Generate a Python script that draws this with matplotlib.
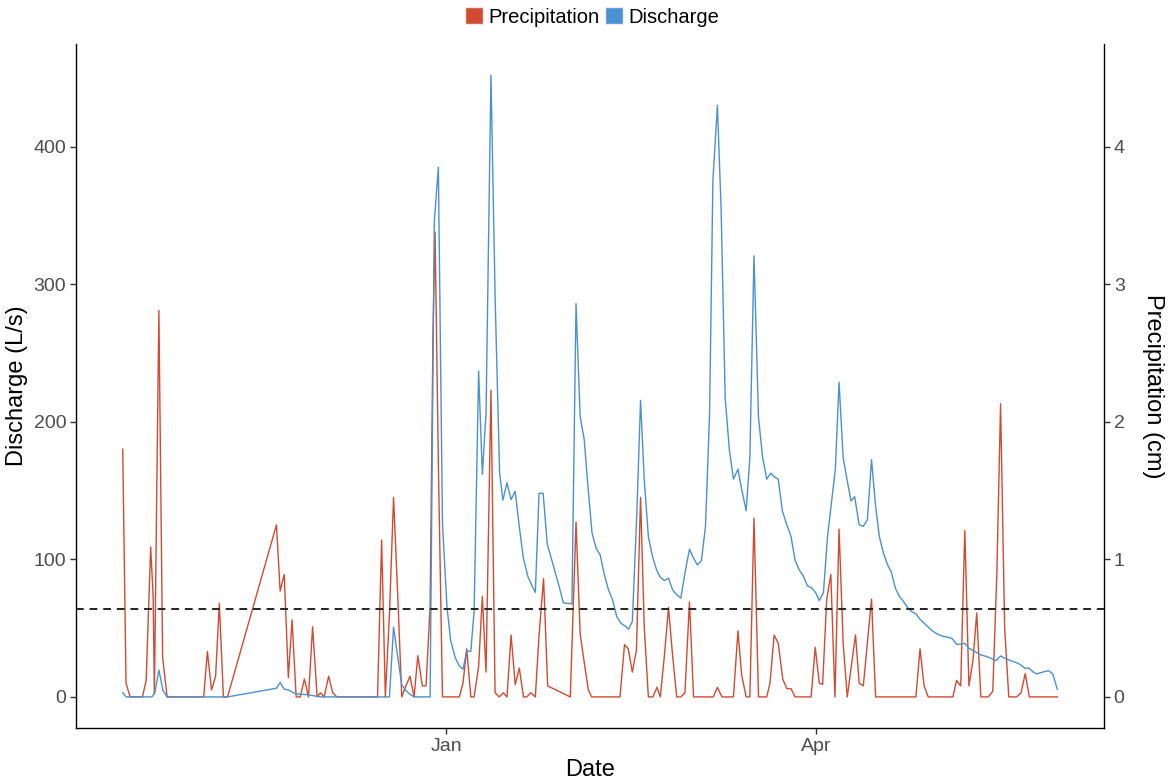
import numpy as np
import pandas as pd
import matplotlib
matplotlib.use("Agg")
import matplotlib.pyplot as plt
import matplotlib.dates as mdates
from matplotlib.patches import Patch

start = pd.Timestamp("2018-10-14")

# rain gauge: days since start, daily precipitation (cm)
precip_day = [0.3, 1.1, 2.1, 5.1, 6.0, 7.1, 7.7, 8.0, 9.1, 10.0, 11.1,
              20.0, 20.9, 21.9, 22.9, 23.8, 24.8, 25.8,
              37.7, 38.6, 39.6, 40.6, 41.5, 42.5, 43.5, 44.5, 45.5, 46.5, 47.6,
              48.4, 49.3, 50.4, 51.4, 52.4, 62.3, 63.3, 64.2, 65.2, 66.2, 67.2,
              68.2, 69.2, 70.2, 71.2, 72.1, 73.2, 74.1, 75.1, 75.8, 76.3, 77.1, 78.1,
              82.2, 83.1, 84.0, 85.0, 85.8, 86.9, 87.8, 88.7, 89.9, 90.9, 91.9,
              92.9, 93.8, 94.8, 95.8, 96.8, 97.8, 98.6, 99.6, 100.7, 101.6, 102.7,
              103.7, 109.2, 110.6, 111.6, 112.6, 113.6, 114.4,
              121.3, 122.4, 123.3, 124.3, 125.3, 126.3, 127.2, 128.2, 129.3,
              130.3, 131.1, 132.1, 133.1, 134.1, 135.1, 136.1, 137.1, 138.2, 139.2,
              144.0, 145.0, 146.1, 148.9, 150.0, 150.9, 152.0, 152.9, 153.9, 155.0,
              157.0, 157.8, 158.8, 159.8, 160.9, 161.9, 162.9, 163.9,
              167.8, 168.8, 169.8, 170.6, 171.6, 172.6, 173.6, 174.6, 175.6, 176.6,
              178.6, 179.5, 180.5, 182.5, 183.5, 193.3, 194.3, 195.3, 196.3,
              202.3, 203.2, 204.2, 205.2, 206.2, 207.2, 208.1, 209.1, 210.9,
              212.0, 213.0, 213.9, 214.9, 215.9, 217.8, 218.9, 219.9, 220.9, 227.7]
precip_cm = [1.80, 0.10, 0.0, 0.0, 0.12, 1.09, 0.73, 0.02, 2.81, 0.29, 0.0,
             0.0, 0.33, 0.05, 0.15, 0.68, 0.0, 0.0,
             1.25, 0.77, 0.89, 0.14, 0.56, 0.0, 0.0, 0.13, 0.0, 0.51, 0.0,
             0.03, 0.0, 0.15, 0.03, 0.0, 0.0, 1.14, 0.0, 0.60, 1.45, 0.75,
             0.0, 0.08, 0.15, 0.0, 0.30, 0.08, 0.08, 0.66, 2.66, 3.38, 1.70, 0.0,
             0.0, 0.10, 0.35, 0.0, 0.0, 0.22, 0.73, 0.18, 2.23, 0.03, 0.0,
             0.03, 0.0, 0.45, 0.09, 0.21, 0.0, 0.0, 0.03, 0.0, 0.45, 0.86,
             0.08, 0.0, 1.27, 0.46, 0.25, 0.05, 0.0,
             0.0, 0.38, 0.35, 0.18, 0.34, 1.45, 0.51, 0.0, 0.0,
             0.07, 0.0, 0.30, 0.65, 0.30, 0.0, 0.0, 0.03, 0.69, 0.0,
             0.0, 0.07, 0.0, 0.0, 0.48, 0.16, 0.0, 0.0, 1.30, 0.0,
             0.0, 0.10, 0.45, 0.39, 0.13, 0.06, 0.06, 0.0,
             0.0, 0.36, 0.10, 0.09, 0.71, 0.89, 0.0, 1.22, 0.39, 0.0,
             0.45, 0.10, 0.08, 0.71, 0.0, 0.0, 0.35, 0.08, 0.0,
             0.0, 0.12, 0.08, 1.21, 0.08, 0.27, 0.61, 0.0, 0.0,
             0.04, 0.90, 2.13, 0.50, 0.0, 0.0, 0.03, 0.17, 0.0, 0.0]

# stream gauge: days since start, discharge (L/s)
flow_day = [0.3, 1.1, 7.4, 8.1, 9.1, 10.1, 11.1, 25.8, 37.7, 38.6, 39.6, 40.6,
            41.5, 42.5, 45.5, 48.4, 65.2, 66.2, 67.2, 68.2, 69.2, 70.2, 71.2,
            75.1, 76.1, 77.1, 78.1, 79.2, 80.1, 81.2, 82.2, 83.1, 84.0, 85.0,
            85.8, 86.9, 87.8, 88.7, 89.9, 90.9, 92.0, 92.8, 93.8, 94.8, 95.8,
            96.8, 97.8, 98.9, 99.9, 100.7, 101.6, 102.6, 103.6, 104.6, 105.6,
            106.6, 107.5, 108.5, 109.6, 110.6, 111.6, 112.6, 113.5, 114.5, 115.5,
            116.5, 117.4, 118.5, 119.5, 120.5, 121.5, 122.5, 123.4, 124.3, 125.4,
            126.3, 127.2, 128.2, 129.2, 130.2, 131.1, 132.1, 133.1, 134.1, 135.1,
            136.1, 137.1, 138.2, 139.2, 140.1, 141.1, 142.1, 143.1, 143.9, 145.0,
            145.9, 146.9, 147.9, 148.9, 150.0, 150.9, 152.0, 152.9, 153.9, 155.0,
            156.0, 157.0, 158.0, 158.8, 159.8, 160.8, 161.9, 162.9, 163.9, 164.9,
            165.9, 166.9, 167.9, 168.9, 169.8, 170.8, 171.8, 172.8, 173.7, 174.6,
            175.6, 176.6, 177.5, 178.4, 179.5, 180.5, 181.5, 182.5, 183.5, 184.4,
            185.4, 186.4, 187.3, 188.3, 189.3, 190.3, 191.2, 192.3, 193.3, 194.3,
            195.3, 196.3, 197.2, 198.2, 199.2, 200.1, 201.1, 202.1, 203.2, 204.2,
            205.2, 206.2, 207.2, 208.1, 209.1, 210.0, 211.0, 212.0, 212.8, 213.9,
            214.9, 215.9, 216.9, 217.8, 218.8, 219.8, 220.8, 221.7, 222.7, 223.7,
            224.7, 225.6, 226.6, 227.7]
flow_ls = [3.1, 0.0, 0.0, 3.0, 19.6, 4.6, 0.0, 0.0, 6.3, 10.4, 5.6, 5.1,
           3.6, 2.2, 1.5, 0.0, 0.0, 50.7, 29.3, 8.7, 4.6, 2.0, 0.0,
           0.0, 345, 385, 126, 65.5, 40.9, 28.6, 22.5, 20.1, 33.2, 33.2,
           62.3, 236.8, 161.7, 206, 452, 292, 163, 143, 155.6, 143.4, 149.5,
           123.6, 100.6, 87.4, 80.7, 76, 148, 148, 111, 100.6, 89.8,
           79, 68.4, 68, 67.6, 286, 203.9, 186.9, 153, 119, 108,
           103, 90, 77.8, 70.5, 58.4, 53.6, 51.6, 49.2, 54.8, 133.6,
           215.5, 157.8, 116.6, 102, 92.4, 87, 84.6, 86.3, 77.8, 74.2,
           71.8, 90, 107.4, 100.9, 96, 98.9, 123.9, 206, 375, 430,
           355, 217, 180, 158.3, 165.5, 151, 135.3, 174, 320.7, 203,
           174, 158.3, 162.6, 160, 158.3, 135.3, 125, 116.7, 99.4, 92.4,
           87.9, 80.7, 79.3, 75.8, 70, 75.8, 116.7, 142.5, 165.5, 228.7,
           174, 157, 142.5, 145.5, 125, 124, 128.7, 172.4, 138.4, 116.6,
           104.5, 96, 91, 79, 73, 69.3, 65.2, 62, 60.4, 56.5,
           53.6, 50.7, 48.2, 46.3, 44.8, 43.9, 43.4, 42.4, 38.3, 38.3,
           39, 35.4, 33.7, 32.2, 30.5, 29.8, 28.8, 27.4, 26.4, 29.8,
           28.1, 26.9, 25.7, 24.9, 23.3, 20.9, 20.9, 18.4, 16.7, 17.7,
           18.4, 19.1, 16.7, 5.6]

threshold = 64      # L/s
rain_scale = 100    # 1 cm of rain drawn as 100 L/s
red = "#D24A30"
blue = "#4B91D0"

plt.rcParams["font.family"] = ["Liberation Sans", "DejaVu Sans"]

fig = plt.figure(figsize=(11.76, 7.82), dpi=100)
ax = fig.add_axes([76 / 1176, 1 - 728 / 782, (1104 - 76) / 1176, (728 - 44) / 782])

t_rain = start + pd.to_timedelta(precip_day, unit="D")
t_flow = start + pd.to_timedelta(flow_day, unit="D")
rain = np.array(precip_cm) * rain_scale

ax.plot(t_rain, rain, color=red, lw=1.0)
ax.plot(t_flow, flow_ls, color=blue, lw=1.0)
ax.axhline(threshold, color="#222222", lw=1.4, ls=(0, (4, 3)))

# ggplot-like 5% expansion on both axes
tmin, tmax = min(t_rain.min(), t_flow.min()), max(t_rain.max(), t_flow.max())
pad = (tmax - tmin) * 0.05
ax.set_xlim(tmin - pad, tmax + pad)
ymax = max(max(flow_ls), rain.max())
ax.set_ylim(-0.05 * ymax, 1.05 * ymax)

ax.set_yticks([0, 100, 200, 300, 400])
ax.xaxis.set_major_locator(mdates.MonthLocator(bymonth=[1, 4]))
ax.xaxis.set_major_formatter(mdates.DateFormatter("%b"))

sec = ax.secondary_yaxis("right", functions=(lambda v: v / rain_scale, lambda v: v * rain_scale))
sec.set_yticks([0, 1, 2, 3, 4])

for a in (ax, sec):
    a.tick_params(length=4, width=1, color="#333333", labelcolor="#4D4D4D", labelsize=14, pad=3)
ax.spines["top"].set_visible(False)
ax.spines["right"].set_visible(False)
for s in ("left", "bottom"):
    ax.spines[s].set_linewidth(1.0)
sec.spines["right"].set_linewidth(1.0)

ax.set_xlabel("Date", fontsize=17, labelpad=3)
ax.set_ylabel("Discharge (L/s)", fontsize=17, labelpad=4)
sec.set_ylabel("Precipitation (cm)", fontsize=17, rotation=-90, labelpad=28)

handles = [Patch(facecolor=red, edgecolor="#eeeeee", label="Precipitation"),
           Patch(facecolor=blue, edgecolor="#eeeeee", label="Discharge")]
fig.legend(handles=handles, loc="center", bbox_to_anchor=(592 / 1176, 1 - 17 / 782), ncol=2,
           frameon=False, fontsize=14.5, handlelength=0.9, handleheight=0.9,
           handletextpad=0.25, columnspacing=0.3)

fig.savefig("out.png", dpi=100)
